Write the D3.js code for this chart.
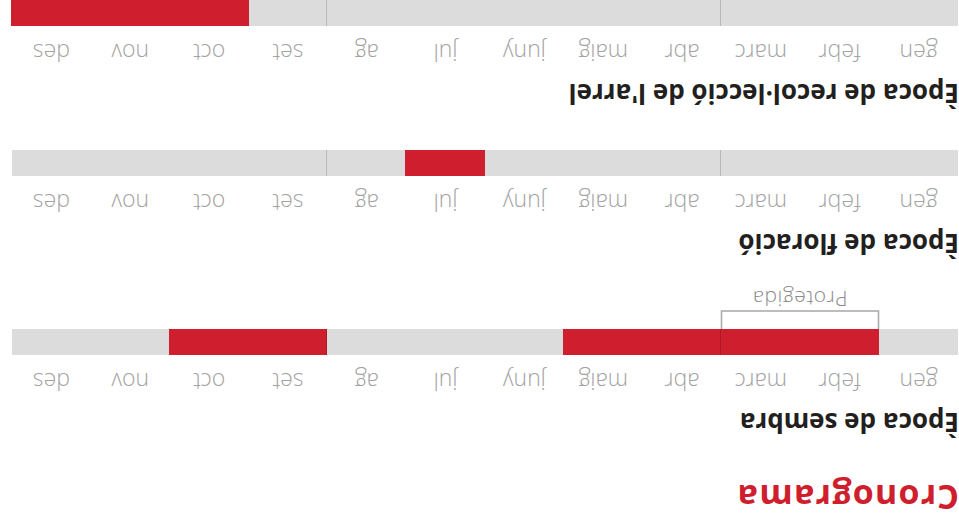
<!DOCTYPE html>
<html>
<head>
<meta charset="utf-8">
<script src="https://cdn.jsdelivr.net/npm/d3@7"></script>
<style>
  body { margin: 0; background: #fff; }
  svg { display: block; }
  .month text { font-family: "Open Sans", sans-serif; font-weight: 300; font-size: 23px; fill: #a3a3a3; }
  rect { shape-rendering: crispEdges; }
</style>
</head>
<body>
<svg id="svg" width="959" height="523"></svg>
<script>
const months = ["gen", "febr", "marc", "abr", "maig", "juny", "jul", "ag", "set", "oct", "nov", "des"];
const titles = ["Època de sembra", "Època de floració", "Època de recol·lecció de l'arrel"];
const sembra = ["febr", "marc", "abr", "maig", "set", "oct"];
const floracio = ["jul"];
const arrel = ["oct", "nov", "des"];
const protegida = ["febr", "marc"];
const dividers = ["abr", "set"];

const seasons = [sembra, floracio, arrel];
const notes = [protegida, [], []];

const svg = d3.select("#svg"),
    w = 959,
    h = 523,
    red = "#cf1f2e",
    grey = "#dcdcdc",
    barH = 26;

const x = d3.scaleBand().domain(months).range([1, 947]).padding(0);

// the whole thing is drawn upside down
const root = svg.append("g").attr("transform", "rotate(180," + w / 2 + "," + h / 2 + ")");

root.append("text")
    .attr("x", 0).attr("y", 38)
    .style("font-family", "'Open Sans', sans-serif")
    .style("font-weight", 700)
    .style("font-size", "34px")
    .style("letter-spacing", "1.2px")
    .style("fill", red)
    .text("Cronograma");

let rowTop = 168;
titles.forEach(function (t, i) {
    const g = root.append("g").attr("transform", "translate(0," + rowTop + ")");

    g.append("text")
        .attr("x", 0).attr("y", -58)
        .style("font-family", "'Open Sans', sans-serif")
        .style("font-weight", 700)
        .style("font-size", "26px")
        .style("fill", "#231f20")
        .text(t);

    g.append("g").attr("class", "month")
        .call(d3.axisTop(x).tickSize(0).tickPadding(18))
        .call(a => a.select(".domain").remove());

    g.append("rect")
        .attr("x", x.range()[0]).attr("y", 0)
        .attr("width", x.range()[1] - x.range()[0]).attr("height", barH)
        .style("fill", grey);

    g.selectAll(".on").data(seasons[i]).enter().append("rect")
        .attr("class", "on")
        .attr("x", d => x(d)).attr("y", 0)
        .attr("width", x.bandwidth() + 1).attr("height", barH)
        .style("fill", red);

    g.selectAll(".div").data(dividers).enter().append("line")
        .attr("x1", d => Math.round(x(d)) + 0.5).attr("x2", d => Math.round(x(d)) + 0.5)
        .attr("y1", 0).attr("y2", barH)
        .style("stroke", "rgba(0,0,0,0.16)").style("stroke-width", 1);

    const n = notes[i];
    if (n.length) {
        const x0 = Math.round(x(n[0])) + 0.5, x1 = Math.round(x(n[n.length - 1]) + x.bandwidth()) - 0.5;
        g.append("path")
            .attr("d", d3.line()([[x0, barH], [x0, barH + 18], [x1, barH + 18], [x1, barH]]))
            .attr("fill", "none").style("stroke", "#a8a8a8").style("stroke-width", 1.5);
        g.append("text")
            .attr("x", (x0 + x1) / 2).attr("y", barH + 38)
            .attr("text-anchor", "middle")
            .style("font-family", "'Open Sans', sans-serif")
            .style("font-weight", 300)
            .style("font-size", "21px")
            .style("letter-spacing", "0.5px")
            .style("fill", "#8a8a8a")
            .text("Protegida");
    }

    rowTop += barH + 124 + (n.length ? 29 : 0);
});
</script>
</body>
</html>
